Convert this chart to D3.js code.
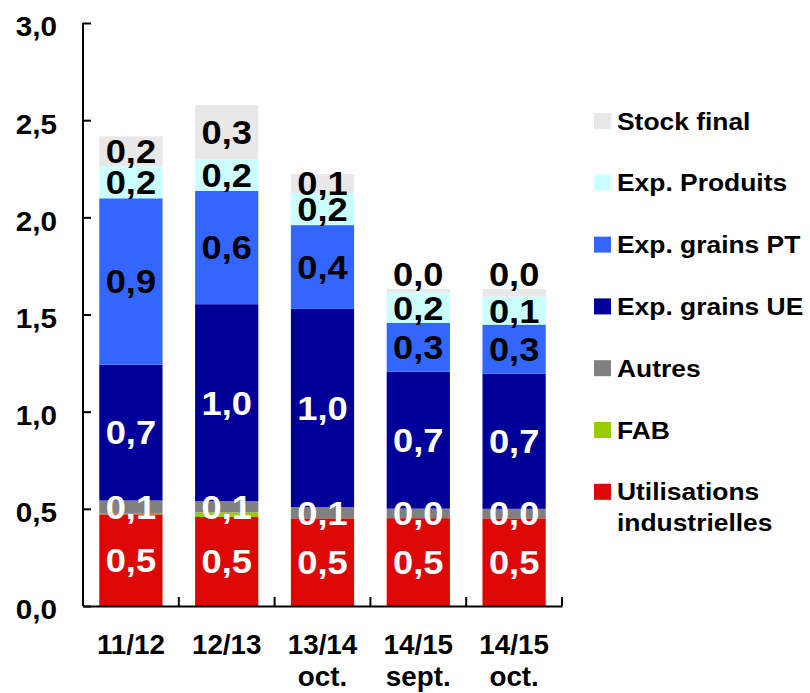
<!DOCTYPE html>
<html>
<head>
    <meta charset="utf-8">
    <title>Utilisations et exportations</title>
    <script src="https://d3js.org/d3.v7.min.js"></script>
    <style>
        body { margin: 0; background: #fff; }
        svg { display: block; font-family: "Liberation Sans", Arial, sans-serif; font-weight: bold; }
        .axis path, .axis line { stroke: #000; stroke-width: 2px; }
    </style>
</head>
<body>
    <div id="chart"></div>

    <script>
        // categories (each entry split into label lines)
        const categories = ["11/12", "12/13", "13/14 oct.", "14/15 sept.", "14/15 oct."];
        const categoryLines = [["11/12"], ["12/13"], ["13/14", "oct."], ["14/15", "sept."], ["14/15", "oct."]];

        // series values, bottom to top of the stack
        const utilisations = [0.472, 0.458, 0.451, 0.452, 0.451];
        const fab          = [0.003, 0.024, 0.0, 0.0, 0.0];
        const autres       = [0.068, 0.058, 0.058, 0.049, 0.049];
        const grainsUE     = [0.699, 1.013, 1.022, 0.705, 0.696];
        const grainsPT     = [0.856, 0.583, 0.429, 0.251, 0.252];
        const expProduits  = [0.164, 0.161, 0.165, 0.156, 0.144];
        const stockFinal   = [0.155, 0.280, 0.098, 0.019, 0.040];

        const yTicks = [0, 0.5, 1, 1.5, 2, 2.5, 3];

        const series = [
            { name: "Utilisations industrielles", lines: ["Utilisations", "industrielles"], values: utilisations, color: "#dd0806", labelColor: "#fff", label: true },
            { name: "FAB", lines: ["FAB"], values: fab, color: "#99cc00", labelColor: "#000", label: false },
            { name: "Autres", lines: ["Autres"], values: autres, color: "#808080", labelColor: "#fff", label: true },
            { name: "Exp. grains UE", lines: ["Exp. grains UE"], values: grainsUE, color: "#000099", labelColor: "#fff", label: true },
            { name: "Exp. grains PT", lines: ["Exp. grains PT"], values: grainsPT, color: "#3366ff", labelColor: "#000", label: true },
            { name: "Exp. Produits", lines: ["Exp. Produits"], values: expProduits, color: "#ccffff", labelColor: "#000", label: true },
            { name: "Stock final", lines: ["Stock final"], values: stockFinal, color: "#e8e8e8", labelColor: "#000", label: true }
        ];

        const width = 810, height = 693;
        const plot = { left: 83, right: 562, top: 23, bottom: 606 };
        const stretch = 1.1; // the original text is a little wider than Arial

        const fr = d3.formatLocale({ decimal: ",", thousands: " ", grouping: [3], currency: ["", " €"] });
        const fmt = fr.format(".1f");

        const svg = d3.select("#chart").append("svg")
            .attr("width", width)
            .attr("height", height);

        const x = d3.scaleBand()
            .domain(categories)
            .range([plot.left, plot.right])
            .paddingInner(0.34)
            .paddingOuter(0.17);

        const y = d3.scaleLinear()
            .domain([0, 3])
            .range([plot.bottom, plot.top]);

        // stack rows
        const rows = categories.map((c, i) => {
            const r = { cat: c };
            series.forEach(s => r[s.name] = s.values[i]);
            return r;
        });
        const stacked = d3.stack().keys(series.map(s => s.name))(rows);

        // bars
        const layers = svg.append("g")
            .selectAll("g")
            .data(stacked)
            .enter().append("g")
            .attr("fill", (d, i) => series[i].color);

        layers.selectAll("rect")
            .data(d => d)
            .enter().append("rect")
            .attr("x", d => x(d.data.cat))
            .attr("width", x.bandwidth())
            .attr("y", d => y(d[1]))
            .attr("height", d => y(d[0]) - y(d[1]));

        // value labels
        const labelGroup = svg.append("g");
        stacked.forEach((layer, i) => {
            const s = series[i];
            if (!s.label) return;
            labelGroup.selectAll(null)
                .data(layer)
                .enter().append("text")
                .attr("transform", d => {
                    const cx = x(d.data.cat) + x.bandwidth() / 2;
                    const v = d[1] - d[0];
                    // tiny top segments: label sits above the bar
                    const cy = (i === series.length - 1 && v < 0.05) ? y(d[1]) - 15 : (y(d[0]) + y(d[1])) / 2;
                    return `translate(${cx},${cy}) scale(${stretch},1)`;
                })
                .attr("dy", "0.36em")
                .attr("text-anchor", "middle")
                .attr("font-size", 33)
                .attr("fill", s.labelColor)
                .text(d => fmt(d[1] - d[0]));
        });

        // y axis
        const yAxis = svg.append("g")
            .attr("class", "axis")
            .attr("transform", `translate(${plot.left},0)`)
            .call(d3.axisLeft(y)
                .tickValues(yTicks)
                .tickFormat(fmt)
                .tickSizeInner(-8)
                .tickSizeOuter(0)
                .tickPadding(26));
        yAxis.select(".domain").attr("d", `M0,${plot.top}V${plot.bottom}`);
        yAxis.selectAll("text")
            .attr("x", 0)
            .attr("transform", `translate(-26,0) scale(${stretch},1)`)
            .attr("font-size", 27)
            .attr("font-family", "Liberation Sans, Arial, sans-serif")
            .attr("font-weight", "bold")
            .attr("fill", "#000")
            .attr("dy", "0.48em");

        // x axis
        const xAxis = svg.append("g")
            .attr("class", "axis")
            .attr("transform", `translate(0,${plot.bottom})`)
            .call(d3.axisBottom(x).tickSize(0).tickFormat(""));

        const step = x.step();
        const bounds = d3.range(categories.length + 1).map(k => plot.left + k * step);
        xAxis.selectAll(".bound")
            .data(bounds)
            .enter().append("line")
            .attr("class", "bound")
            .attr("x1", d => d).attr("x2", d => d)
            .attr("y1", 0).attr("y2", -9);

        const xLabels = svg.append("g")
            .selectAll("text")
            .data(categories)
            .enter().append("text")
            .attr("transform", d => `translate(${x(d) + x.bandwidth() / 2},654) scale(1.03,1)`)
            .attr("text-anchor", "middle")
            .attr("font-size", 27)
            .attr("fill", "#000");
        xLabels.selectAll("tspan")
            .data((d, i) => categoryLines[i])
            .enter().append("tspan")
            .attr("x", 0)
            .attr("dy", (d, j) => j === 0 ? 0 : 32)
            .text(d => d);

        // legend, top to bottom = top of stack first
        const legendItems = series.slice().reverse();
        const legend = svg.append("g")
            .selectAll("g")
            .data(legendItems)
            .enter().append("g")
            .attr("transform", (d, i) => `translate(594,${121 + i * 61.8})`);

        legend.append("rect")
            .attr("x", 0)
            .attr("y", -8)
            .attr("width", 17)
            .attr("height", 16)
            .attr("fill", d => d.color);

        legend.append("text")
            .attr("transform", `translate(23,0) scale(${stretch},1)`)
            .attr("font-size", 24)
            .attr("fill", "#000")
            .selectAll("tspan")
            .data(d => d.lines)
            .enter().append("tspan")
            .attr("x", 0)
            .attr("dy", (d, j) => j === 0 ? "0.36em" : 31)
            .text(d => d);
    </script>
</body>
</html>
